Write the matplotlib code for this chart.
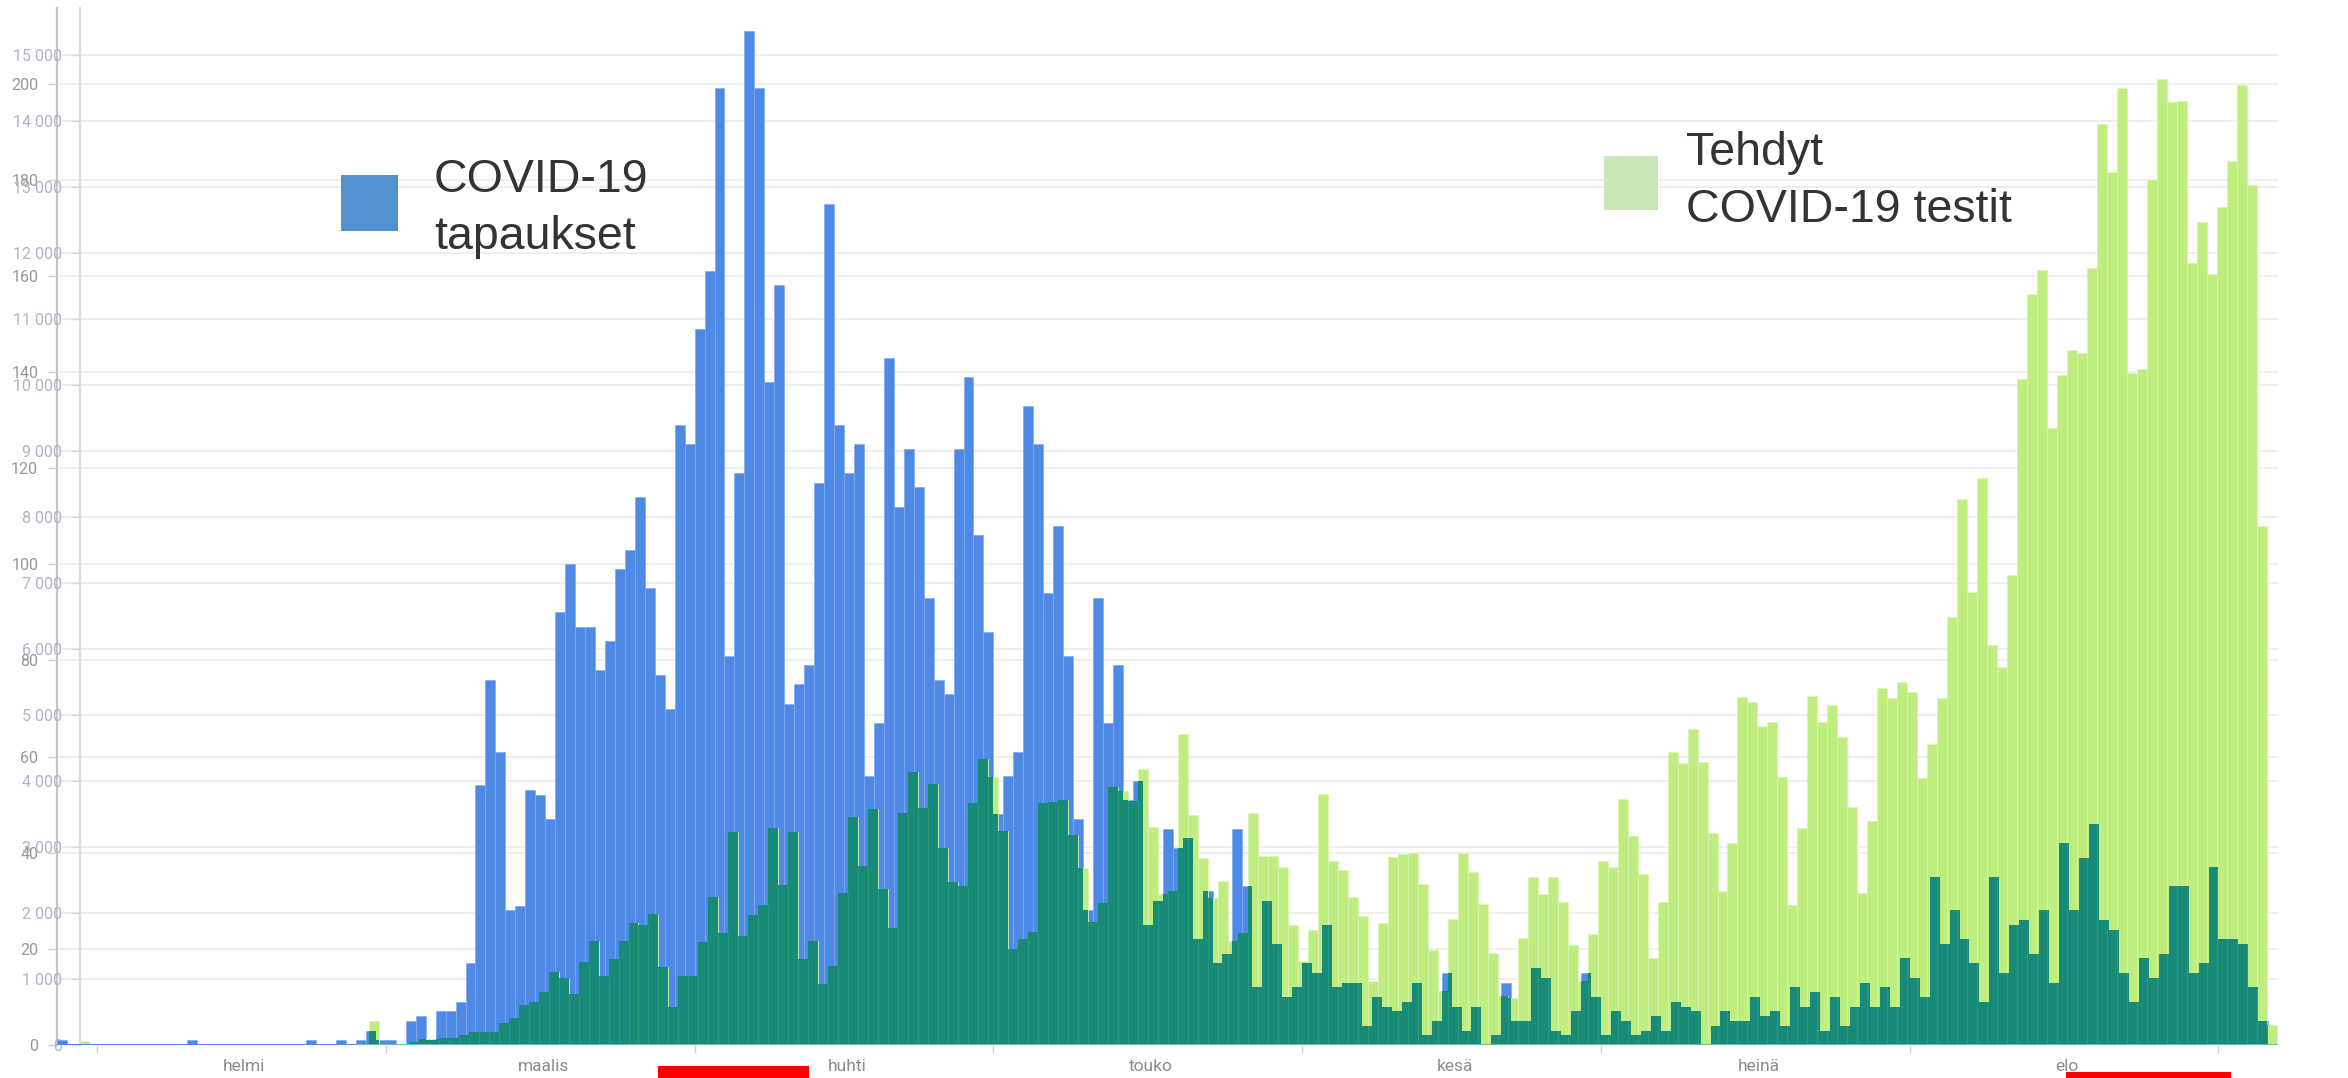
import matplotlib
matplotlib.use('Agg')
import matplotlib.pyplot as plt
import numpy as np
from matplotlib.patches import Rectangle

# COVID-19 tapaukset per päivä, ensimmäinen pylväs 28.1.
cases = ([1] + [0] * 12 + [1] + [0] * 11 +
         [1, 0, 0, 1, 0, 1, 3, 1, 1, 0, 5, 6, 1, 7, 7, 9] +
         [17, 54, 76, 61, 28, 29, 53, 52, 47, 90, 100, 87, 87, 78, 84, 99, 103, 114,
          95, 77, 70, 129, 125, 149, 161, 199, 81, 119, 211, 199, 138, 158, 71, 75, 79, 117] +
         [175, 129, 119, 125, 56, 67, 143, 112, 124, 116, 93, 76, 73, 124, 139, 106, 86, 48,
          56, 61, 133, 125, 94, 108, 81, 47, 28, 93, 67, 79, 51, 55, 25, 30, 45, 41, 43, 22,
          32, 17, 19, 45, 33] +
         [12, 30, 21, 10, 12, 17, 15, 25, 12, 13, 13, 4, 10, 8, 7, 9, 13, 2, 5, 15, 8, 3, 8, 0,
          2, 13, 5, 5, 16, 14, 3, 2, 7, 15, 10, 2, 7, 5, 2, 3, 6, 3, 9, 8, 7, 0, 4, 7, 5, 5, 10] +
         [6, 7, 4, 12, 8, 11, 3, 10, 4, 8, 13, 8, 12, 8, 18, 14, 10, 35, 21, 28, 22, 17, 9, 35,
          15, 25, 26, 19, 28, 13, 42, 28, 39, 46, 26, 24, 15, 9, 18, 14, 19, 33, 33, 15, 17, 37,
          22, 22, 21, 12, 5])

# tehdyt testit per päivä, ensimmäinen pylväs 30.1.
tests = ([60] + [0] * 28 +
         [360, 10, 15, 20, 40, 90, 90, 100, 100, 150] +
         [200, 200, 200, 333, 410, 606, 647, 809, 1114, 1013, 770, 1258, 1581, 1053, 1300,
          1573, 1847, 1817, 1990, 1185, 576, 1053, 1053, 1561, 2250, 1703, 3228, 1652, 1977,
          2129, 3288, 2424, 3236, 1300, 1581, 930] +
         [1190, 2300, 3460, 2720, 3580, 2370, 1780, 3510, 4140, 3590, 3950, 2990, 2470, 2410,
          3670, 4330, 4060, 3240, 1460, 1600, 1720, 3670, 3690, 3720, 3180, 2680, 1860, 2150,
          3910, 3850, 3700, 4190, 3300, 2290, 2330, 4710, 3480, 2840, 2230, 2490, 1570, 1700,
          3520] +
         [2872, 2872, 2696, 1818, 1272, 1743, 3801, 2790, 2652, 2244, 1962, 970, 1855, 2847,
          2891, 2910, 2446, 1447, 820, 1912, 2916, 2622, 2138, 1391, 738, 708, 1617, 2546, 2288,
          2546, 2163, 1517, 970, 1679, 2790, 2696, 3731, 3173, 2590, 1321, 2163, 4446, 4272,
          4786, 4296, 3211, 2332, 3060, 5269, 5193] +
         [4840, 4891, 4058, 2129, 3287, 5297, 4891, 5155, 4667, 3611, 2302, 3388, 5419, 5266,
          5500, 5358, 4048, 4566, 5256, 6495, 8271, 6861, 8597, 6069, 5733, 7124, 10099, 11389,
          11745, 9358, 10150, 10537, 10496, 11775, 13968, 13237, 14505, 10181, 10252, 13114,
          14639, 14293, 14313, 11856, 12475, 11693, 12709, 13400, 14546, 13043, 7865, 303])

months = ['helmi', 'maalis', 'huhti', 'touko', 'kesä', 'heinä', 'elo']
month_starts = [0, 29, 60, 90, 121, 151, 182, 213]   # päiviä 1.2. lähtien
cases_ticks = list(range(0, 201, 20))
tests_ticks = list(range(0, 15001, 1000))

# värit
BLUE = '#4e89e5'
GREEN = '#c0ed80'
TEAL = '#178a78'

W, H = 2348, 1078
fig = plt.figure(figsize=(W / 100, H / 100), dpi=100)
ax = fig.add_axes([57 / W, (H - 1045) / H, (2278 - 57) / W, (1045 - 8) / H])
ax_t = ax.twinx()

px_day = 9.96
ax.set_xlim((57 - 97) / px_day, (2278 - 97) / px_day)
c_top = (1045 - 8) / 4.807          # 4.807 px / tapaus
t_top = (1045 - 8) / 65.97 * 1000   # 65.97 px / 1000 testiä
ax.set_ylim(0, c_top)
ax_t.set_ylim(0, t_top)
scale = t_top / c_top

# pylväiden paikat (testikaavio on hieman eri mittakaavassa)
cases_x = np.arange(len(cases)) - 4.0
tests_w = 1.0031
tests_x = -1.807 + np.arange(len(tests)) * tests_w
cases_v = np.array(cases, dtype=float) * scale
tests_v = np.array(tests, dtype=float)

ax_t.bar(cases_x, cases_v, width=1.0, align='edge', color=BLUE,
         edgecolor='#80a9ef', linewidth=0.5, zorder=2)
ax_t.bar(tests_x, tests_v, width=tests_w, align='edge', color=GREEN,
         edgecolor='#d8f6b0', linewidth=0.5, zorder=3)

# päällekkäinen osa tummana
edges = np.unique(np.concatenate([cases_x, cases_x + 1, tests_x, tests_x + tests_w]))
mids = (edges[:-1] + edges[1:]) / 2


def value_at(x, start, width, vals):
    idx = np.floor((x - start) / width).astype(int)
    ok = (idx >= 0) & (idx < len(vals))
    out = np.zeros_like(x)
    out[ok] = vals[idx[ok]]
    return out


overlap = np.minimum(value_at(mids, cases_x[0], 1.0, cases_v),
                     value_at(mids, tests_x[0], tests_w, tests_v))
ax_t.bar(edges[:-1], overlap, width=np.diff(edges), align='edge', color=TEAL,
         linewidth=0, zorder=4)
sep_h = np.minimum(value_at(tests_x[1:] - 0.05, cases_x[0], 1.0, cases_v),
                   np.minimum(tests_v[1:], tests_v[:-1]))
ax_t.vlines(tests_x[1:], 0, sep_h, color='#2c9e78', linewidth=0.6, zorder=5)

# pohjaviiva
ax_t.plot([cases_x[0], cases_x[-1] + 1], [0, 0], color=BLUE, lw=2.2, zorder=6,
          solid_capstyle='butt')
ax_t.plot([26, tests_x[-1] + tests_w], [0, 0], color='#5cc5a3', lw=2.2, zorder=7,
          solid_capstyle='butt')

# akselit
for a in (ax, ax_t):
    for s in a.spines.values():
        s.set_visible(False)
    a.set_axisbelow(True)
    a.yaxis.grid(True, color='#ebebeb', linewidth=1.2)

ax.spines['left'].set_visible(True)
ax.spines['left'].set_color('#c4c4c4')
ax.spines['left'].set_linewidth(1.6)
ax_t.spines['left'].set_visible(True)
ax_t.spines['left'].set_color('#dcdcdc')
ax_t.spines['left'].set_linewidth(1.6)
ax_t.spines['left'].set_position(('axes', 23 / (2278 - 57)))
ax_t.yaxis.set_ticks_position('left')

ax.set_yticks(cases_ticks)
ax.set_yticklabels([str(v) for v in cases_ticks])
ax_t.set_yticks(tests_ticks)
ax_t.set_yticklabels([f'{v:,}'.replace(',', ' ') for v in tests_ticks])
ax.set_ylim(0, c_top)
ax_t.set_ylim(0, t_top)
ax.tick_params(axis='y', length=6.5, width=1, color='#cccccc', pad=7,
               labelsize=11.5, labelcolor='#a09393')
ax_t.tick_params(axis='y', length=6.5, width=1, color='#d8d8d8', pad=6.5,
                 labelsize=11.5, labelcolor='#aeb3cb')
for lab in ax.get_yticklabels() + ax_t.get_yticklabels():
    lab.set_family(['Roboto', 'DejaVu Sans'])

ax.set_xticks(month_starts)
ax.set_xticklabels([])
ax.set_xticks([(month_starts[i] + month_starts[i + 1]) / 2 + 0.3 for i in range(len(months))],
              minor=True)
ax.set_xticklabels(months, minor=True, family=['Roboto', 'DejaVu Sans'])
ax.tick_params(axis='x', which='major', length=6, width=1, color='#cfcfcf')
ax.tick_params(axis='x', which='minor', length=0, pad=10, labelsize=12.5, labelcolor='#8c8c8c')

# selitteet
LEG_FONT = ['Liberation Sans', 'DejaVu Sans']
fig.add_artist(Rectangle((341 / W, 1 - 231 / H), 57 / W, 56 / H, transform=fig.transFigure,
                         facecolor='#5290cf', edgecolor='none'))
fig.text(434 / W, 1 - 192 / H, 'COVID-19', fontsize=33.5, family=LEG_FONT, color='#333333',
         va='baseline', ha='left')
fig.text(434 / W, 1 - 249 / H, 'tapaukset', fontsize=33.5, family=LEG_FONT, color='#333333',
         va='baseline', ha='left')
fig.add_artist(Rectangle((1604 / W, 1 - 210 / H), 54 / W, 54 / H, transform=fig.transFigure,
                         facecolor='#c9e6b6', edgecolor='none'))
fig.text(1686 / W, 1 - 165 / H, 'Tehdyt', fontsize=33.5, family=LEG_FONT, color='#333333',
         va='baseline', ha='left')
fig.text(1686 / W, 1 - 222 / H, 'COVID-19 testit', fontsize=33.5, family=LEG_FONT,
         color='#333333', va='baseline', ha='left')

# punaiset merkinnät alareunassa
fig.add_artist(Rectangle((658 / W, 0), 151 / W, 12 / H, transform=fig.transFigure,
                         facecolor='#ff0000', edgecolor='none'))
fig.add_artist(Rectangle((2066 / W, 0), 165 / W, 6 / H, transform=fig.transFigure,
                         facecolor='#ff0000', edgecolor='none'))

fig.savefig('out.png', dpi=100)
